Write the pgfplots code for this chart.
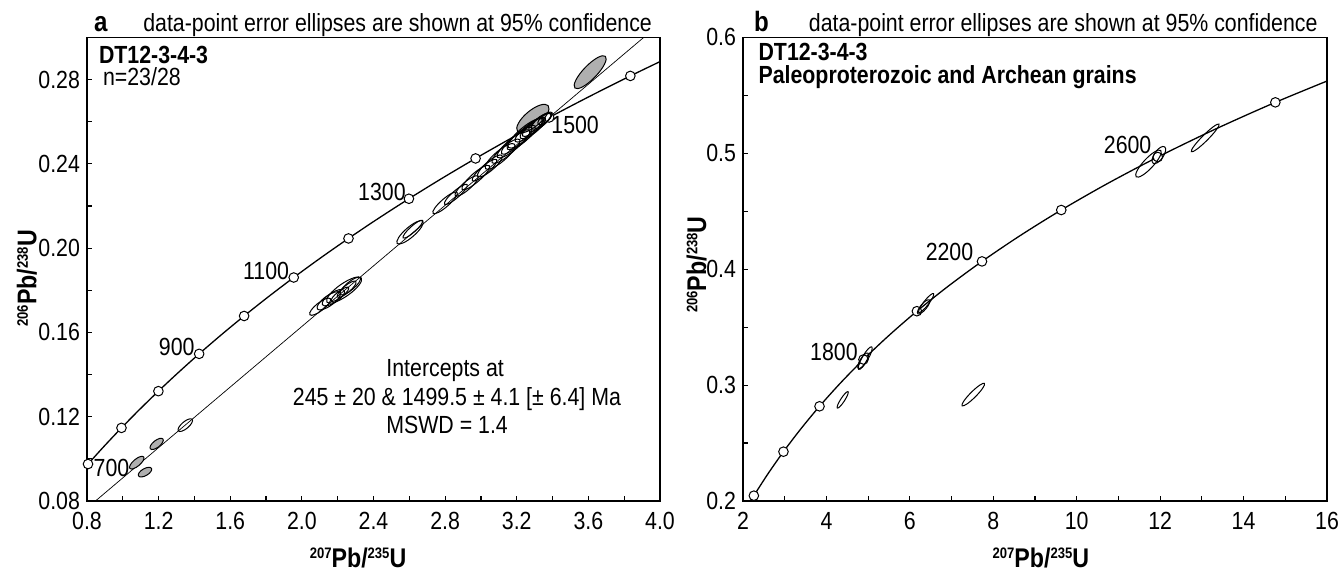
\documentclass[border=0pt]{standalone}
\usepackage{fontspec}
\setmainfont{Liberation Sans}[FakeStretch=0.86]
\usepackage{pgfplots}
\usepackage{pgfplotstable}
\pgfplotsset{compat=1.18}

\definecolor{ellgray}{RGB}{175,175,175}
\newcommand{\fs}{\fontsize{12.4pt}{14.8pt}\selectfont}
\newcommand{\iso}[1]{\raisebox{4.3pt}{\fontsize{7.6pt}{8pt}\selectfont #1}}
\pgfdeclareplotmark{empty}{}

% concordia, panel a (t in Ma, 207/235, 206/238)
\pgfplotstableread{
t x y
590 0.78794 0.09584
600 0.80564 0.09754
650 0.89677 0.10609
700 0.99251 0.11470
750 1.09308 0.12338
800 1.19873 0.13213
850 1.30971 0.14094
900 1.42630 0.14983
950 1.54876 0.15878
1000 1.67741 0.16780
1050 1.81255 0.17690
1100 1.95452 0.18606
1150 2.10365 0.19530
1200 2.26030 0.20460
1250 2.42487 0.21398
1300 2.59774 0.22343
1350 2.77933 0.23296
1400 2.97009 0.24256
1450 3.17049 0.25224
1500 3.38099 0.26199
1550 3.60212 0.27181
1600 3.83441 0.28172
1650 4.07843 0.29170
}\concA

\pgfplotstableread{
t x y
600 0.80564 0.09754
700 0.99251 0.11470
800 1.19873 0.13213
900 1.42630 0.14983
1000 1.67741 0.16780
1100 1.95452 0.18606
1200 2.26030 0.20460
1300 2.59774 0.22343
1400 2.97009 0.24256
1500 3.38099 0.26199
1600 3.83441 0.28172
}\tickA

% concordia, panel b
\pgfplotstableread{
t x y
1150 2.10365 0.19530
1200 2.26030 0.20460
1300 2.59774 0.22343
1400 2.97009 0.24256
1500 3.38099 0.26199
1600 3.83441 0.28172
1700 4.33477 0.30175
1800 4.88690 0.32210
1900 5.49618 0.34277
2000 6.16852 0.36377
2100 6.91045 0.38509
2200 7.72917 0.40674
2300 8.63261 0.42873
2400 9.62957 0.45107
2500 10.72971 0.47375
2600 11.94372 0.49679
2700 13.28336 0.52019
2800 14.76165 0.54396
2900 16.39295 0.56810
}\concB

\pgfplotstableread{
t x y
1200 2.26030 0.20460
1400 2.97009 0.24256
1600 3.83441 0.28172
1800 4.88690 0.32210
2000 6.16852 0.36377
2200 7.72917 0.40674
2400 9.62957 0.45107
2600 11.94372 0.49679
2800 14.76165 0.54396
}\tickB

% error ellipses: centre, semi-axes (pt), angle
\pgfplotstableread{
x y a b ang
1.078 0.0982 4.5 1.75 40
1.124 0.0937 3.75 1.75 30
1.189 0.1071 4.0 1.75 38
3.29 0.2615 10.0 4.0 40
3.61 0.2835 11.0 3.4 46
}\grayA

\pgfplotstableread{
x y a b ang
1.349 0.1160 4.5 1.75 40
2.102 0.1722 6.5 2.0 38
2.150 0.1750 7.0 2.5 36
2.176 0.1765 6.5 2.5 33
2.236 0.1801 10.5 3.2 35
2.250 0.1805 6.0 1.75 40
2.213 0.1781 5.5 1.5 38
2.270 0.1820 6.5 2.0 40
2.604 0.2075 8.5 2.5 41
2.620 0.2090 6.5 1.5 42
2.800 0.2215 8.0 2.0 41
2.860 0.2255 7.5 1.75 41
2.920 0.2295 7.5 2.0 41
2.971 0.2335 9.0 2.25 41
3.020 0.2370 8.0 2.0 41
3.050 0.2390 8.0 2.25 41
3.107 0.2435 9.5 2.75 40
3.140 0.2460 9.0 2.5 40
3.182 0.2495 10.5 2.75 40
3.200 0.2510 10.0 2.5 41
3.225 0.2525 9.0 2.75 40
3.247 0.2545 11.0 3.0 40
3.270 0.2560 9.0 2.5 39
3.290 0.2570 8.0 2.5 39
3.312 0.2585 9.0 2.25 38
3.330 0.2598 7.0 2.25 38
3.340 0.2605 6.5 2.0 38
3.355 0.2612 4.0 1.75 38
}\openA

\pgfplotstableread{
x y a b ang
11.72 0.4911 9.0 2.5 47
11.97 0.4985 5.0 2.25 55
13.08 0.5133 9.75 1.5 45
6.39 0.3708 6.0 1.25 52
6.33 0.3675 4.5 1.5 50
4.93 0.3233 6.5 1.5 60
4.88 0.3210 4.5 1.5 58
4.39 0.2873 4.9 1.0 57
7.52 0.2918 7.9 1.5 45
}\openB

\pgfplotsset{
  conc/.style={
    scale only axis, height=231.8pt,
    axis line style={line width=0.75pt},
    tick style={line width=0.6pt, black},
    major tick length=2.5pt, minor tick length=2.5pt,
    tick align=inside, tick pos=left,
    tick label style={font=\fs},
    /pgf/number format/assume math mode=true,
    xticklabel style={yshift=-2pt},
    clip mode=individual,
  },
  ellbase/.style={
    scatter, only marks, mark=empty,
    visualization depends on={\thisrow{a}\as\ea},
    visualization depends on={\thisrow{b}\as\eb},
    visualization depends on={\thisrow{ang}\as\eang},
    scatter/@post marker code/.code={\endpgfscope},
  },
  grayell/.style={ellbase,
    scatter/@pre marker code/.code={%
      \pgfscope
      \pgftransformrotate{\eang}%
      \pgfsetlinewidth{0.5pt}%
      \pgfsetstrokecolor{black}%
      \pgfsetfillcolor{ellgray}%
      \pgfpathellipse{\pgfpointorigin}{\pgfqpoint{\ea pt}{0pt}}{\pgfqpoint{0pt}{\eb pt}}%
      \pgfusepath{fill,stroke}%
    },
  },
  openell/.style={ellbase,
    scatter/@pre marker code/.code={%
      \pgfscope
      \pgftransformrotate{\eang}%
      \pgfsetlinewidth{0.5pt}%
      \pgfsetstrokecolor{black}%
      \pgfpathellipse{\pgfpointorigin}{\pgfqpoint{\ea pt}{0pt}}{\pgfqpoint{0pt}{\eb pt}}%
      \pgfusepath{stroke}%
    },
  },
  agemark/.style={only marks, mark=*, mark size=2.4pt,
    mark options={fill=white, draw=black, line width=0.5pt}},
}

\begin{document}
\begin{tikzpicture}
\useasboundingbox (0,0) rectangle (669.5pt,285pt);

\begin{axis}[conc, name=pa,
  at={(43.5pt,34.5pt)}, anchor=south west, width=286.5pt,
  xmin=0.8, xmax=4.0, ymin=0.08, ymax=0.30,
  xtick={0.8,1.2,1.6,2.0,2.4,2.8,3.2,3.6,4.0},
  minor xtick={1.0,1.4,1.8,2.2,2.6,3.0,3.4,3.8},
  ytick={0.08,0.12,0.16,0.20,0.24,0.28},
  minor ytick={0.10,0.14,0.18,0.22,0.26,0.30},
  xticklabel style={/pgf/number format/.cd, fixed, fixed zerofill, precision=1},
  yticklabel style={/pgf/number format/.cd, fixed, fixed zerofill, precision=2},
  every axis x label/.style={at={(rel axis cs:0.473,0)}, anchor=base, yshift=-33pt},
  every axis y label/.style={at={(rel axis cs:0,0.48)}, xshift=-25.3pt, rotate=90, anchor=base},
  xlabel={\fontsize{13.5pt}{15pt}\selectfont\bfseries\iso{207}Pb/\iso{235}U},
  ylabel={\fontsize{13.5pt}{15pt}\selectfont\bfseries\iso{206}Pb/\iso{238}U},
]
\addplot[black, line width=0.65pt, smooth] table[x=x, y=y] {\concA};
\addplot[black, line width=0.35pt] coordinates {(0.8,0.07661) (4.0,0.30653)};
\addplot[agemark] table[x=x, y=y] {\tickA};
\addplot[grayell] table[x=x, y=y] {\grayA};
\addplot[openell] table[x=x, y=y] {\openA};
\node[font=\fs] at (axis cs:0.937,0.0957) {700};
\node[font=\fs] at (axis cs:1.301,0.1532) {900};
\node[font=\fs] at (axis cs:1.80,0.1893) {1100};
\node[font=\fs] at (axis cs:2.447,0.2267) {1300};
\node[font=\fs] at (axis cs:3.526,0.2584) {1500};
\node[font=\fs, anchor=base] at (axis cs:2.80,0.1390) {Intercepts at};
\node[font=\fs, anchor=base] at (axis cs:2.866,0.1255) {245 ± 20 \& 1499.5 ± 4.1 [± 6.4] Ma};
\node[font=\fs, anchor=base] at (axis cs:2.811,0.1121) {MSWD = 1.4};
\end{axis}

\begin{axis}[conc, name=pb,
  at={(371.5pt,34.5pt)}, anchor=south west, width=292pt,
  xmin=2, xmax=16, ymin=0.2, ymax=0.6,
  xtick={2,4,6,8,10,12,14,16},
  minor xtick={3,5,7,9,11,13,15},
  ytick={0.2,0.3,0.4,0.5,0.6},
  minor ytick={0.25,0.35,0.45,0.55},
  yticklabel style={/pgf/number format/.cd, fixed, fixed zerofill, precision=1},
  every axis x label/.style={at={(rel axis cs:0.51,0)}, anchor=base, yshift=-33pt},
  every axis y label/.style={at={(rel axis cs:0,0.51)}, xshift=-18.5pt, rotate=90, anchor=base},
  xlabel={\fontsize{13.5pt}{15pt}\selectfont\bfseries\iso{207}Pb/\iso{235}U},
  ylabel={\fontsize{13.5pt}{15pt}\selectfont\bfseries\iso{206}Pb/\iso{238}U},
]
\addplot[black, line width=0.65pt, smooth] table[x=x, y=y] {\concB};
\addplot[agemark] table[x=x, y=y] {\tickB};
\addplot[openell] table[x=x, y=y] {\openB};
\node[font=\fs] at (axis cs:4.18,0.329) {1800};
\node[font=\fs] at (axis cs:6.95,0.4149) {2200};
\node[font=\fs] at (axis cs:11.22,0.5076) {2600};
\end{axis}

% panel letters, captions and sample names
\node[anchor=base west, font=\fontsize{14pt}{16pt}\selectfont\bfseries, xshift=0pt, yshift=3pt] at (pa.north west) {a};
\node[anchor=base east, font=\fs, xshift=-0.5pt, yshift=3pt] at (pa.north east) {data-point error ellipses are shown at 95\% confidence};
\node[anchor=base west, font=\fs\bfseries, xshift=2.5pt, yshift=-12.8pt] at (pa.north west) {DT12-3-4-3};
\node[anchor=base west, font=\fs, xshift=4.5pt, yshift=-24pt] at (pa.north west) {n=23/28};

\node[anchor=base west, font=\fontsize{14pt}{16pt}\selectfont\bfseries, xshift=2pt, yshift=3pt] at (pb.north west) {b};
\node[anchor=base east, font=\fs, xshift=-1.2pt, yshift=3pt] at (pb.north east) {data-point error ellipses are shown at 95\% confidence};
\node[anchor=base west, font=\fs\bfseries, xshift=4.25pt, yshift=-11.5pt] at (pb.north west) {DT12-3-4-3};
\node[anchor=base west, font=\fs\bfseries, xshift=4.25pt, yshift=-22.8pt] at (pb.north west) {Paleoproterozoic and Archean grains};
\end{tikzpicture}
\end{document}
